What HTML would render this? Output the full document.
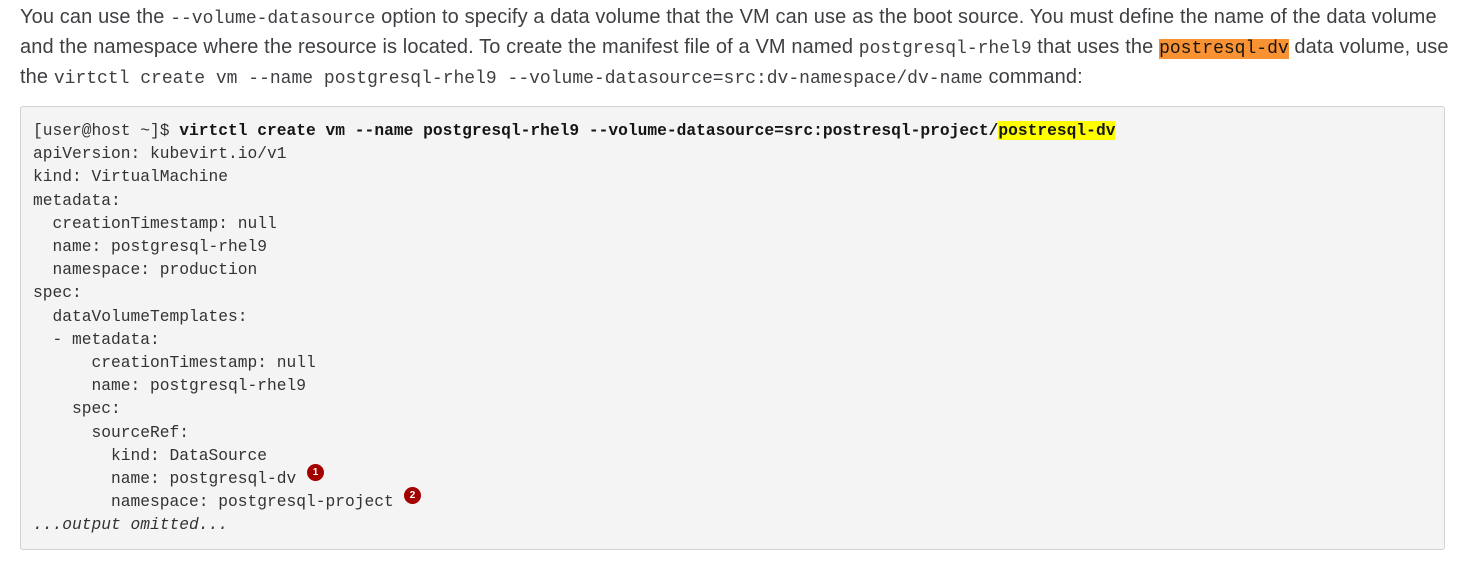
<!DOCTYPE html>
<html><head><meta charset="utf-8"><style>
html,body{margin:0;padding:0;background:#fff;width:1465px;height:564px;overflow:hidden}
.p{position:absolute;left:20px;top:2px;font-family:"Liberation Sans",sans-serif;font-size:20px;color:#3d3f42;line-height:30px;white-space:nowrap;letter-spacing:0.12px}
.p div{height:30px}
.p code{font-family:"Liberation Mono",monospace;font-size:18px;color:#3d3f42;letter-spacing:0;line-height:0}
.hl{background:#f89232;color:#151515!important;line-height:20px!important;display:inline-block}
.box{position:absolute;left:20px;top:106px;width:1423px;height:442px;background:#f4f4f4;border:1px solid #d2d2d2;border-radius:3px}
pre{position:absolute;left:33px;top:119px;margin:0;font-family:"Liberation Mono",monospace;font-size:16.25px;line-height:23.2px;color:#333}
b{color:#151515}
.y{background:#ffff00}
.c{position:absolute;width:17px;height:17px;border-radius:50%;background:#a30000;color:#fff;font:bold 10px "Liberation Sans",sans-serif;text-align:center;line-height:17px}
</style></head><body>
<div class="p"><div>You can use the <code>--volume-datasource</code> option to specify a data volume that the VM can use as the boot source. You must define the name of the data volume</div><div>and the namespace where the resource is located. To create the manifest file of a VM named <code>postgresql-rhel9</code> that uses the <code class="hl">postresql-dv</code> data volume, use</div><div>the <code>virtctl create vm --name postgresql-rhel9 --volume-datasource=src:dv-namespace/dv-name</code> command:</div></div>
<div class="box"></div>
<pre>[user@host ~]$ <b>virtctl create vm --name postgresql-rhel9 --volume-datasource=src:postresql-project/<span class="y">postresql-dv</span></b>
apiVersion: kubevirt.io/v1
kind: VirtualMachine
metadata:
  creationTimestamp: null
  name: postgresql-rhel9
  namespace: production
spec:
  dataVolumeTemplates:
  - metadata:
      creationTimestamp: null
      name: postgresql-rhel9
    spec:
      sourceRef:
        kind: DataSource
        name: postgresql-dv
        namespace: postgresql-project
<i>...output omitted...</i></pre>
<div class="c" style="left:307px;top:464px">1</div>
<div class="c" style="left:404px;top:487px">2</div>
</body></html>
